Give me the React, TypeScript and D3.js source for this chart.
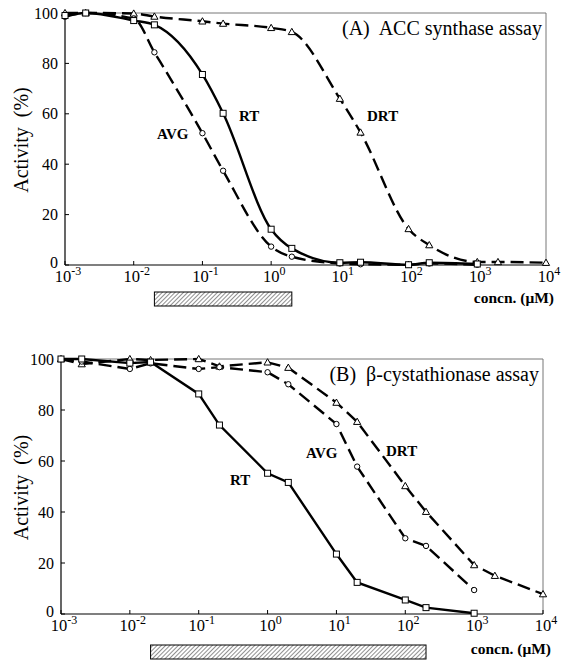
import React from "react";
import * as d3 from "d3";

// ---------- data ----------
const concA = [0.001, 0.002, 0.01, 0.02, 0.1, 0.2, 1, 2, 10, 20, 100, 200, 1000];
const rtA = [99, 100, 97, 95.3, 75.6, 60.2, 14.2, 6.6, 0.9, 1.1, 0.1, 0.9, 0.4];
const avgA = [98.5, 100, 97.8, 84.4, 52.3, 37.4, 7.3, 3.3, 0.6, 0.3, 0.1, 0.6, 0.1];
const drtConcA = [0.001, 0.002, 0.01, 0.02, 0.1, 0.2, 1, 2, 10, 20, 100, 200, 1000, 2000, 10000];
const drtA = [100, 100, 99.8, 98.6, 96.7, 95.8, 94.1, 92.5, 66, 52.6, 14.3, 7.9, 1.2, 1.2, 0.9];

const concB = [0.001, 0.002, 0.01, 0.02, 0.1, 0.2, 1, 2, 10, 20, 100, 200, 1000];
const rtB = [100, 100, 98.4, 98.8, 86.3, 74.1, 55.2, 51.6, 23.5, 12.4, 5.5, 2.5, 0.3];
const avgB = [100, 99, 96.1, 98.3, 96.1, 96.8, 94.8, 90.1, 74.5, 57.8, 29.7, 26.7, 9.4];
const drtConcB = [0.001, 0.002, 0.01, 0.02, 0.1, 0.2, 1, 2, 10, 20, 100, 200, 1000, 2000, 10000];
const drtB = [100, 98, 100, 99.6, 100, 97.1, 98.7, 96.6, 82.9, 75.4, 50.2, 40.1, 19.2, 15, 7.8];

const xTickExps = [-3, -2, -1, 0, 1, 2, 3, 4];
const yTicks = [0, 20, 40, 60, 80, 100];
const hatchA = [0.02, 2];
const hatchB = [0.02, 200];

const FONT = "'Liberation Serif', 'Times New Roman', serif";

type Series = { conc: number[]; vals: number[]; marker: "square" | "circle" | "triangle"; dashed: boolean };

type PanelProps = {
  id: string;
  left: number;
  right: number;
  top: number;
  bottom: number;
  title: string;
  series: Series[];
  smooth: boolean;
  hatch: number[];
  hatchY: number;
  labels: { text: string; x: number; y: number }[];
  unitY: number;
};

function Marker({ kind, x, y }: { kind: string; x: number; y: number }) {
  if (kind === "square")
    return <rect x={x - 3} y={y - 3} width={6} height={6} fill="#fff" stroke="#000" strokeWidth={1} />;
  if (kind === "circle") return <circle cx={x} cy={y} r={2.7} fill="#fff" stroke="#000" strokeWidth={1} />;
  const s = 3.6;
  return (
    <path
      d={`M${x},${y - s} L${x + s},${y + s * 0.75} L${x - s},${y + s * 0.75} Z`}
      fill="#fff"
      stroke="#000"
      strokeWidth={1}
    />
  );
}

function Panel(p: PanelProps) {
  const x = d3.scaleLog().domain([1e-3, 1e4]).range([p.left, p.right]);
  const y = d3.scaleLinear().domain([0, 100]).range([p.bottom, p.top]);
  const line = d3
    .line<[number, number]>()
    .x((d) => x(d[0]))
    .y((d) => y(d[1]))
    .curve(p.smooth ? d3.curveMonotoneX : d3.curveLinear);

  return (
    <g>
      <defs>
        <pattern id={`hatch-${p.id}`} width={3} height={3} patternUnits="userSpaceOnUse" patternTransform="rotate(45)">
          <line x1={0} y1={0} x2={0} y2={3} stroke="#222" strokeWidth={1} />
        </pattern>
      </defs>
      {/* frame */}
      <line x1={p.left} x2={p.right} y1={p.top} y2={p.top} stroke="#777" strokeWidth={1} />
      <line x1={p.right} x2={p.right} y1={p.top} y2={p.bottom} stroke="#777" strokeWidth={1} />
      <line x1={p.left} x2={p.left} y1={p.top} y2={p.bottom} stroke="#000" strokeWidth={1.2} />
      <line x1={p.left} x2={p.right} y1={p.bottom} y2={p.bottom} stroke="#000" strokeWidth={1.2} />
      {/* y ticks */}
      {yTicks.map((t) => (
        <g key={t}>
          <line x1={p.left} x2={p.left + 4} y1={y(t)} y2={y(t)} stroke="#000" strokeWidth={1} />
          <text
            x={p.left - 7}
            y={y(t) + (t === 0 ? 3 : 5.5)}
            textAnchor="end"
            fontFamily={FONT}
            fontSize={16}
          >
            {t}
          </text>
        </g>
      ))}
      {/* x ticks */}
      {xTickExps.map((e) => {
        const xv = x(Math.pow(10, e));
        return (
          <g key={e}>
            <line x1={xv} x2={xv} y1={p.bottom} y2={p.bottom - 4} stroke="#000" strokeWidth={1} />
            <text x={xv + 3} y={p.bottom + 17} textAnchor="middle" fontFamily={FONT} fontSize={16.5}>
              10
              <tspan dy={-7} fontSize={12}>
                {e}
              </tspan>
            </text>
          </g>
        );
      })}
      {/* y label */}
      <text
        transform={`translate(${28},${(p.top + p.bottom) / 2 + 1}) rotate(-90)`}
        textAnchor="middle"
        fontFamily={FONT}
        fontSize={20}
        style={{ whiteSpace: "pre" }}
      >
        {"Activity  (%)"}
      </text>
      {/* title */}
      <text
        x={p.right - 4}
        y={p.top + 22}
        textAnchor="end"
        fontFamily={FONT}
        fontSize={20}
        style={{ whiteSpace: "pre" }}
      >
        {p.title}
      </text>
      {/* series lines */}
      {p.series.map((s, i) => (
        <path
          key={i}
          d={line(s.conc.map((c, j) => [c, s.vals[j]] as [number, number])) || ""}
          fill="none"
          stroke="#000"
          strokeWidth={2.4}
          strokeDasharray={s.dashed ? "13,6" : undefined}
        />
      ))}
      {p.series.map((s, i) => (
        <g key={i}>
          {s.conc.map((c, j) => (
            <Marker key={j} kind={s.marker} x={x(c)} y={y(s.vals[j])} />
          ))}
        </g>
      ))}
      {/* labels */}
      {p.labels.map((l) => (
        <text key={l.text} x={l.x} y={l.y} fontFamily={FONT} fontSize={15} fontWeight="bold">
          {l.text}
        </text>
      ))}
      {/* hatched bar */}
      <rect
        x={x(p.hatch[0])}
        y={p.hatchY}
        width={x(p.hatch[1]) - x(p.hatch[0])}
        height={14}
        fill={`url(#hatch-${p.id})`}
        stroke="#000"
        strokeWidth={1}
      />
      <text x={p.right + 8} y={p.unitY} textAnchor="end" fontFamily={FONT} fontSize={15.5} fontWeight="bold">
        concn. (μM)
      </text>
    </g>
  );
}

export default function App() {
  return (
    <svg
      width={562}
      height={667}
      style={{ position: "absolute", left: 0, top: 0, background: "#fff" }}
    >
      <rect x={0} y={0} width={562} height={667} fill="#fff" />
      <Panel
        id="A"
        left={65}
        right={546}
        top={13}
        bottom={265}
        title="(A)  ACC synthase assay"
        smooth={true}
        series={[
          { conc: drtConcA, vals: drtA, marker: "triangle", dashed: true },
          { conc: concA, vals: avgA, marker: "circle", dashed: true },
          { conc: concA, vals: rtA, marker: "square", dashed: false },
        ]}
        hatch={hatchA}
        hatchY={292}
        labels={[
          { text: "RT", x: 239, y: 121 },
          { text: "AVG", x: 157, y: 139 },
          { text: "DRT", x: 367, y: 121 },
        ]}
        unitY={303}
      />
      <Panel
        id="B"
        left={61}
        right={543}
        top={359}
        bottom={614}
        title="(B)  β-cystathionase assay"
        smooth={false}
        series={[
          { conc: drtConcB, vals: drtB, marker: "triangle", dashed: true },
          { conc: concB, vals: avgB, marker: "circle", dashed: true },
          { conc: concB, vals: rtB, marker: "square", dashed: false },
        ]}
        hatch={hatchB}
        hatchY={645}
        labels={[
          { text: "RT", x: 230, y: 485 },
          { text: "AVG", x: 306, y: 458 },
          { text: "DRT", x: 386, y: 456 },
        ]}
        unitY={654}
      />
    </svg>
  );
}
